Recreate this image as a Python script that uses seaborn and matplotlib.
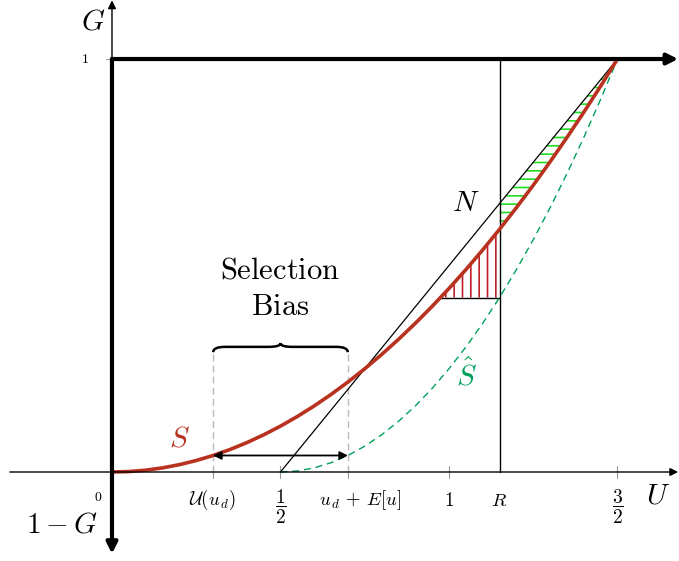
import numpy as np
import pandas as pd
import matplotlib
matplotlib.use("Agg")
import matplotlib.pyplot as plt
from matplotlib.path import Path
from matplotlib.patches import PathPatch
import seaborn as sns

# Values
s_u = [0.0, 0.05, 0.1, 0.15, 0.2, 0.25, 0.3, 0.35, 0.4, 0.45, 0.5, 0.55, 0.6, 0.65,
       0.7, 0.75, 0.8, 0.85, 0.9, 0.95, 1.0, 1.05, 1.1, 1.15, 1.2, 1.25, 1.3, 1.35,
       1.4, 1.45, 1.5]
s_g = [0.0, 0.0011, 0.0044, 0.01, 0.0178, 0.0278, 0.04, 0.0544, 0.0711, 0.09,
       0.1111, 0.1344, 0.16, 0.1878, 0.2178, 0.25, 0.2844, 0.3211, 0.36, 0.4011,
       0.4444, 0.49, 0.5378, 0.5878, 0.64, 0.6944, 0.7511, 0.81, 0.8711, 0.9344, 1.0]
shat_u = [0.5, 0.55, 0.6, 0.65, 0.7, 0.75, 0.8, 0.85, 0.9, 0.95, 1.0, 1.05, 1.1,
          1.15, 1.2, 1.25, 1.3, 1.35, 1.4, 1.45, 1.5]
shat_g = [0.0, 0.0025, 0.01, 0.0225, 0.04, 0.0625, 0.09, 0.1225, 0.16, 0.2025,
          0.25, 0.3025, 0.36, 0.4225, 0.49, 0.5625, 0.64, 0.7225, 0.81, 0.9025, 1.0]
n_u = [0.5, 1.5]
n_g = [0.0, 1.0]
R = 1.15
ud_lo = 0.3
ud_hi = 0.7
brace_y = 0.29

tick_pos = [0.3, 0.5, 0.7, 1.0, 1.5]
tick_labels = [r"$\mathcal{U}(u_{\,d})$", r"$\dfrac{1}{2}$", r"$u_{\,d}\,+\,E[u]$",
               r"$1$", r"$R$", r"$\dfrac{3}{2}$"]
label_pos = [0.3, 0.5, 0.735, 1.0, R, 1.5]

RED = "#B8321F"
GREEN = "#00A05A"
HATCH_GREEN = "#22DD22"
HATCH_RED = "#C0202A"

sns.set_style("white")
plt.rcParams["mathtext.fontset"] = "cm"
plt.rcParams["hatch.linewidth"] = 1.2
plt.rcParams["text.color"] = "black"

fig = plt.figure(figsize=(6.79, 5.61), dpi=100)
ax = fig.add_axes([0, 0, 1, 1])
ax.set_xlim(-0.3323, 1.6825)
ax.set_ylim(-0.2155, 1.1429)
ax.axis("off")

# axes arrows
def arrow(p0, p1, lw, ms):
    ax.annotate("", xy=p1, xytext=p0,
                arrowprops=dict(arrowstyle="-|>", lw=lw, color="black",
                                shrinkA=0, shrinkB=0, mutation_scale=ms))

arrow((-0.303, 0), (1.68, 0), 1.0, 12)
arrow((0, 1), (0, 1.142), 1.0, 12)
arrow((0, 1), (1.68, 1), 3.0, 16)
arrow((0, 1), (0, -0.198), 3.0, 16)

# gray ticks
for t in tick_pos:
    ax.plot([t, t], [-0.015, 0.015], color="#999999", lw=0.8)
ax.plot([-0.018, 0], [1, 1], color="#999999", lw=0.8)

# R vertical
ax.plot([R, R], [0, 1], color="black", lw=1.0)

# dashed guides up to the brace
for t in [ud_lo, ud_hi]:
    ax.plot([t, t], [0, brace_y], color="#BBBBBB", lw=1.0, dashes=(5, 3))

# hatched regions
shat_R = np.interp(R, shat_u, shat_g)
u_lo = np.interp(shat_R, s_g, s_u)
xr = np.linspace(u_lo, R, 60)
ax.fill_between(xr, shat_R, np.interp(xr, s_u, s_g), facecolor="none",
                edgecolor=HATCH_RED, hatch="||", linewidth=0)
ax.plot([u_lo, R], [shat_R, shat_R], color="black", lw=1.0)

xg = np.linspace(R, 1.5, 80)
ax.fill_between(xg, np.interp(xg, s_u, s_g), np.interp(xg, n_u, n_g),
                facecolor="none", edgecolor=HATCH_GREEN, hatch="--", linewidth=0)

# curves
sns.lineplot(x=n_u, y=n_g, ax=ax, color="black", lw=0.9)
sns.lineplot(x=shat_u, y=shat_g, ax=ax, color=GREEN, lw=1.0, dashes=False,
             linestyle=(0, (5, 3.5)))
sns.lineplot(x=s_u, y=s_g, ax=ax, color=RED, lw=2.6, solid_joinstyle="round")

# double arrow
ax.annotate("", xy=(ud_hi, 0.04), xytext=(ud_lo, 0.04),
            arrowprops=dict(arrowstyle="<|-|>", lw=1.3, color="black",
                            shrinkA=0, shrinkB=0, mutation_scale=12))

# brace
d = 0.035
yf = brace_y + 0.013
yt = brace_y + 0.022
xm = (ud_lo + ud_hi) / 2
verts = [(ud_lo, brace_y), (ud_lo, yf), (ud_lo + d, yf),
         (xm - d, yf), (xm, yf), (xm, yt),
         (xm, yf), (xm + d, yf),
         (ud_hi - d, yf), (ud_hi, yf), (ud_hi, brace_y)]
codes = [Path.MOVETO, Path.CURVE3, Path.CURVE3,
         Path.LINETO, Path.CURVE3, Path.CURVE3,
         Path.CURVE3, Path.CURVE3,
         Path.LINETO, Path.CURVE3, Path.CURVE3]
ax.add_patch(PathPatch(Path(verts, codes), facecolor="none", edgecolor="black", lw=1.8))

# text
ax.text(xm, 0.489, r"$\mathrm{Selection}$", ha="center", va="center", fontsize=22)
ax.text(xm, 0.40, r"$\mathrm{Bias}$", ha="center", va="center", fontsize=22)

for x, lab in zip(label_pos, tick_labels):
    frac = "frac" in lab
    ax.text(x, -0.085 if frac else -0.068, lab, ha="center", va="center",
            fontsize=14 if frac else 13.5)

ax.text(-0.042, -0.061, r"$0$", ha="center", va="center", fontsize=10)
ax.text(-0.080, 1.0, r"$1$", ha="center", va="center", fontsize=10)
ax.text(-0.056, 1.090, r"$G$", ha="center", va="center", fontsize=21)
ax.text(-0.148, -0.128, r"$1-G$", ha="center", va="center", fontsize=21)
ax.text(1.620, -0.056, r"$U$", ha="center", va="center", fontsize=21)
ax.text(0.199, 0.082, r"$S$", ha="center", va="center", fontsize=21, color=RED)
ax.text(1.053, 0.235, r"$\hat{S}$", ha="center", va="center", fontsize=21, color=GREEN)
ax.text(1.050, 0.651, r"$N$", ha="center", va="center", fontsize=21)

fig.savefig("out.png", dpi=100)
